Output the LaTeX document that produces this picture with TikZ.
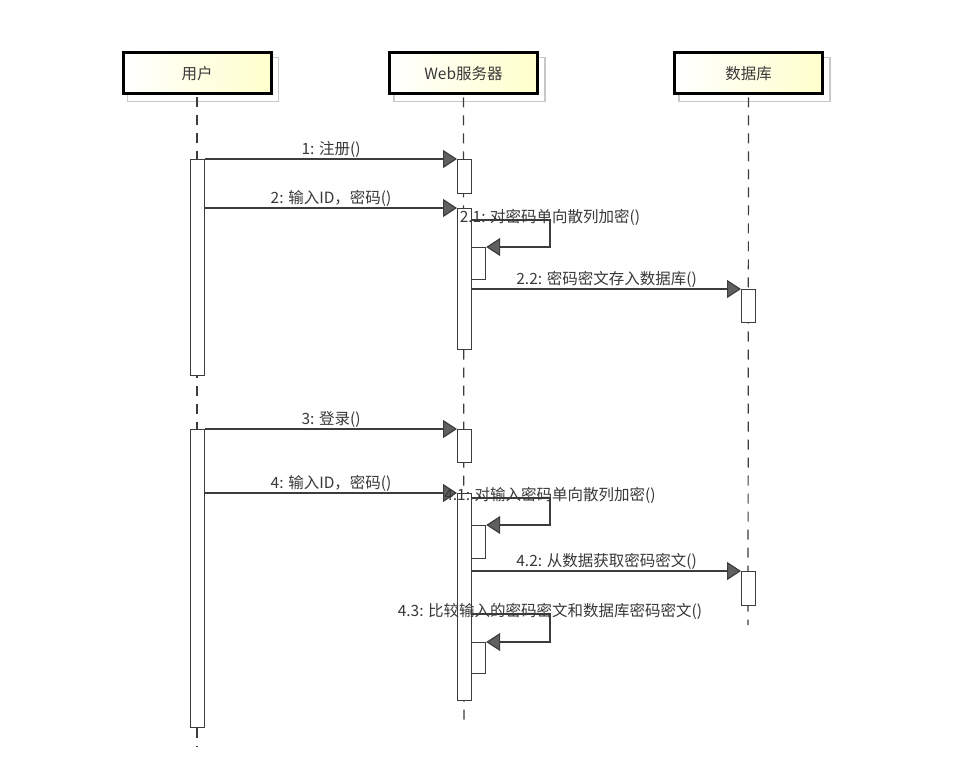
\documentclass[tikz,border=0pt]{standalone}
\usepackage{fontspec}
\setmainfont{Noto Sans CJK SC}
\usetikzlibrary{arrows.meta,backgrounds}
\definecolor{txt}{HTML}{383838}
\definecolor{ln}{HTML}{3C3C3C}
\definecolor{hdyel}{HTML}{FFFFCC}
\definecolor{shad}{HTML}{C8C8C8}
\begin{document}
\begin{tikzpicture}[x=1pt,y=-1pt,
  head/.style={draw=black,line width=3pt,left color=white,right color=hdyel,
    minimum width=148pt,minimum height=41pt,inner sep=0pt,
    font=\fontsize{15.5}{17}\selectfont,text=txt},
  shadowbox/.style={draw=shad,line width=1.2pt},
  life/.style={draw=ln,line width=1.2pt,dash pattern=on 10pt off 8pt},
  act/.style={draw=ln,fill=white,line width=1.2pt,minimum width=14pt,inner sep=0pt,anchor=north west},
  msgline/.style={draw=ln,line width=1.2pt},
  msg/.style={msgline,-{Triangle[length=14pt,width=18pt,fill=gray!75!black]}},
  lbl/.style={text=txt,font=\fontsize{15.5}{17}\selectfont,inner sep=1pt}]
\useasboundingbox (0,0) rectangle (953,759);
% heads
\node[head] (hu) at (197,73.5) {用户};
\node[head] (hw) at (463.5,73.5) {Web服务器};
\node[head] (hd) at (748.5,73.5) {数据库};
\begin{scope}[on background layer]
  \foreach \h in {hu,hw,hd}{
    \draw[shadowbox] ([shift={(6,6)}]\h.north west) rectangle ([shift={(6,6)}]\h.south east);
  }
\end{scope}
% lifeline ends
\coordinate (ue) at (197,747);
\coordinate (we) at (464,720);
\coordinate (de) at (748,625);
\draw[life] ([yshift=-2pt]hu.south) -- (ue);
\draw[life] ([yshift=-2pt]hw.south) -- (we);
\draw[life] ([yshift=-2pt]hd.south) -- (de);
% activations
\node[act,minimum height=216pt] (ua1) at (190,159) {};
\node[act,minimum height=298pt] (ua2) at (190,429) {};
\node[act,minimum height=34pt] (wa1) at (457,159) {};
\node[act,minimum height=141pt] (wa2) at (457,208) {};
\node[act,minimum height=32pt] (wa2n) at (471,247) {};
\node[act,minimum height=33pt] (da1) at (741,289) {};
\node[act,minimum height=33pt] (wa3) at (457,429) {};
\node[act,minimum height=207pt] (wa4) at (457,493) {};
\node[act,minimum height=33pt] (wa4n) at (471,525) {};
\node[act,minimum height=34pt] (da2) at (741,571) {};
\node[act,minimum height=31pt] (wa4m) at (471,642) {};
% self-loop corners
\coordinate (s21) at (550,220);
\coordinate (s41) at (550,498);
\coordinate (s43) at (550,614);
% messages
\draw[msg] (ua1.north east) -- (wa1.north west) node[lbl,midway,above] {1: 注册()};
\draw[msg] (ua1.east |- wa2.north) -- (wa2.north west) node[lbl,midway,above] {2: 输入ID，密码()};
\draw[msg] (wa2.east |- s21) -- (s21) -- (s21 |- wa2n.north) -- (wa2n.north east);
\node[lbl] at ([yshift=3pt]s21) {2.1: 对密码单向散列加密()};
\draw[msg] (wa2.east |- da1.north) -- (da1.north west) node[lbl,midway,above] {2.2: 密码密文存入数据库()};
\draw[msg] (ua2.north east) -- (wa3.north west) node[lbl,midway,above] {3: 登录()};
\draw[msg] (ua2.east |- wa4.north) -- (wa4.north west) node[lbl,midway,above] {4: 输入ID，密码()};
\draw[msg] (wa4.east |- s41) -- (s41) -- (s41 |- wa4n.north) -- (wa4n.north east);
\node[lbl] at ([yshift=3pt]s41) {4.1: 对输入密码单向散列加密()};
\draw[msg] (wa4.east |- da2.north) -- (da2.north west) node[lbl,midway,above] {4.2: 从数据获取密码密文()};
\draw[msg] (wa4.east |- s43) -- (s43) -- (s43 |- wa4m.north) -- (wa4m.north east);
\node[lbl] at ([yshift=3pt]s43) {4.3: 比较输入的密码密文和数据库密码密文()};
\end{tikzpicture}
\end{document}
